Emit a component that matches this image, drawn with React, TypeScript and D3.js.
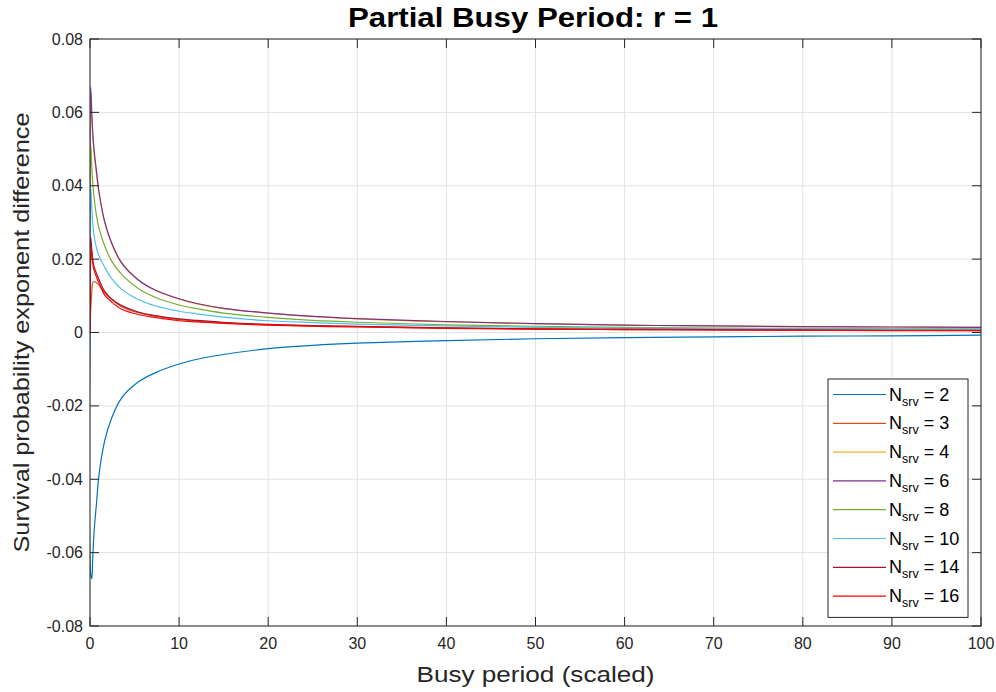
import React from 'react';
import * as d3 from 'd3';

// sample positions along the busy period axis (scaled)
const busyPeriod = [0, 0.08, 0.2, 0.3, 0.45, 0.75, 1.0, 1.65, 2.4, 3.5, 5.4, 7.3, 10, 12, 15, 20, 25, 30, 40, 50, 60, 70, 80, 90, 100];

const serverCounts = [2, 3, 4, 6, 8, 10, 14, 16];
const seriesColors = ['#0072BD', '#D95319', '#EDB120', '#7E2F8E', '#77AC30', '#4DBEEE', '#A2142F', '#FF0000'];

const nsrv2 = [0, -0.066, -0.0671, -0.062, -0.0545, -0.046, -0.039, -0.0295, -0.0235, -0.018, -0.0135, -0.011, -0.0086, -0.0073, -0.006, -0.0044, -0.0035, -0.0029, -0.0022, -0.0017, -0.0014, -0.0012, -0.001, -0.0009, -0.0007];
const nsrv3 = [0, 0.006, 0.011, 0.0135, 0.0139, 0.0135, 0.013, 0.0108, 0.0091, 0.0071, 0.0054, 0.0045, 0.0035, 0.0031, 0.0026, 0.0021, 0.0018, 0.0016, 0.0012, 0.001, 0.0008, 0.0007, 0.0006, 0.0006, 0.0005];
const nsrv4 = [0, 0.062, 0.0585, 0.0535, 0.049, 0.0428, 0.0381, 0.0299, 0.0244, 0.019, 0.0143, 0.0115, 0.0091, 0.0078, 0.0065, 0.0053, 0.0044, 0.0037, 0.0029, 0.0024, 0.002, 0.0018, 0.0016, 0.0015, 0.0014];
const nsrv6 = [0, 0.0669, 0.06, 0.055, 0.05, 0.0435, 0.0385, 0.0302, 0.0246, 0.0192, 0.0144, 0.0116, 0.0092, 0.0079, 0.0066, 0.0053, 0.0044, 0.0038, 0.003, 0.0024, 0.002, 0.0018, 0.0016, 0.0015, 0.0014];
const nsrv8 = [0, 0.0514, 0.045, 0.041, 0.037, 0.0315, 0.0285, 0.0236, 0.0196, 0.016, 0.012, 0.0096, 0.0075, 0.0065, 0.0053, 0.0041, 0.0033, 0.0028, 0.0021, 0.0017, 0.0014, 0.0012, 0.0011, 0.001, 0.001];
const nsrv10 = [0, 0.0396, 0.034, 0.03, 0.0265, 0.0228, 0.021, 0.0178, 0.0148, 0.0119, 0.009, 0.0073, 0.0058, 0.0051, 0.0042, 0.0032, 0.0027, 0.0023, 0.0018, 0.0014, 0.0012, 0.0011, 0.001, 0.0009, 0.0009];
const nsrv14 = [0, 0.026, 0.0225, 0.02, 0.018, 0.016, 0.0145, 0.0112, 0.0092, 0.0074, 0.0056, 0.0046, 0.0037, 0.0033, 0.0028, 0.0022, 0.0019, 0.0017, 0.0013, 0.001, 0.0009, 0.0008, 0.0007, 0.0006, 0.0006];
const nsrv16 = [0, 0.02, 0.0223, 0.019, 0.017, 0.015, 0.0135, 0.0102, 0.0084, 0.0064, 0.0049, 0.0041, 0.0032, 0.0029, 0.0025, 0.002, 0.0017, 0.0015, 0.0011, 0.0009, 0.0008, 0.0007, 0.0006, 0.0005, 0.0005];

const seriesValues = [nsrv2, nsrv3, nsrv4, nsrv6, nsrv8, nsrv10, nsrv14, nsrv16];

const xTicks = [0, 10, 20, 30, 40, 50, 60, 70, 80, 90, 100];
const yTicks = [-0.08, -0.06, -0.04, -0.02, 0, 0.02, 0.04, 0.06, 0.08];

const W = 996;
const H = 692;
const margin = { top: 39, right: 15, bottom: 66, left: 90 };

const App = () => {
    const x = d3.scaleLinear().domain([0, 100]).range([margin.left, W - margin.right]);
    const y = d3.scaleLinear().domain([-0.08, 0.08]).range([H - margin.bottom, margin.top]);
    const [x0, x1] = x.range();
    const [y0, y1] = y.range(); // y0 bottom, y1 top

    const line = d3
        .line<[number, number]>()
        .x((d) => x(d[0]))
        .y((d) => y(d[1]))
        .curve(d3.curveCatmullRom.alpha(0.5));

    const fmtY = (d: number) => (d === 0 ? '0' : d.toFixed(2));
    const axisColor = '#262626';
    const font = 'Liberation Sans, Arial, sans-serif';
    const tickLen = 9;

    // legend layout
    const lgX = 828;
    const lgY = 379;
    const lgW = 140;
    const lgRow = 28.8;

    return (
        <svg
            width={W}
            height={H}
            style={{ position: 'absolute', left: 0, top: 0, background: '#fff' }}
            fontFamily={font}
        >
            <rect x={0} y={0} width={W} height={H} fill="#fff" />
            <defs>
                <clipPath id="plotClip">
                    <rect x={x0} y={y1} width={x1 - x0} height={y0 - y1} />
                </clipPath>
            </defs>

            {/* grid */}
            <g stroke="#e2e2e2" strokeWidth={1}>
                {xTicks.map((t) => (
                    <line key={'gx' + t} x1={x(t)} x2={x(t)} y1={y1} y2={y0} />
                ))}
                {yTicks.map((t) => (
                    <line key={'gy' + t} x1={x0} x2={x1} y1={y(t)} y2={y(t)} />
                ))}
            </g>

            {/* series */}
            <g clipPath="url(#plotClip)" fill="none" strokeWidth={1.2}>
                {seriesValues.map((vals, i) => (
                    <path
                        key={'s' + i}
                        d={line(busyPeriod.map((b, j) => [b, vals[j]] as [number, number])) || ''}
                        stroke={seriesColors[i]}
                    />
                ))}
            </g>

            {/* axes box and ticks */}
            <g stroke={axisColor} strokeWidth={1} fill="none">
                <rect x={x0} y={y1} width={x1 - x0} height={y0 - y1} />
                {xTicks.map((t) => (
                    <g key={'tx' + t}>
                        <line x1={x(t)} x2={x(t)} y1={y0} y2={y0 - tickLen} />
                        <line x1={x(t)} x2={x(t)} y1={y1} y2={y1 + tickLen} />
                    </g>
                ))}
                {yTicks.map((t) => (
                    <g key={'ty' + t}>
                        <line x1={x0} x2={x0 + tickLen} y1={y(t)} y2={y(t)} />
                        <line x1={x1} x2={x1 - tickLen} y1={y(t)} y2={y(t)} />
                    </g>
                ))}
            </g>

            {/* tick labels */}
            <g fill={axisColor} fontSize={16}>
                {xTicks.map((t) => (
                    <text key={'lx' + t} x={x(t)} y={y0 + 23} textAnchor="middle">
                        {t}
                    </text>
                ))}
                {yTicks.map((t) => (
                    <text key={'ly' + t} x={x0 - 7} y={y(t) + 5.5} textAnchor="end">
                        {fmtY(t)}
                    </text>
                ))}
            </g>

            {/* axis labels */}
            <text x={(x0 + x1) / 2} y={682} textAnchor="middle" fontSize={22} fill={axisColor} textLength={238} lengthAdjust="spacingAndGlyphs">
                Busy period (scaled)
            </text>
            <text
                transform={`translate(29, ${(y0 + y1) / 2}) rotate(-90)`}
                textAnchor="middle"
                fontSize={22}
                fill={axisColor}
                textLength={440}
                lengthAdjust="spacingAndGlyphs"
            >
                Survival probability exponent difference
            </text>

            {/* title */}
            <text x={533} y={27} textAnchor="middle" fontSize={27} fontWeight="bold" fill="#000" textLength={370} lengthAdjust="spacingAndGlyphs">
                Partial Busy Period: r = 1
            </text>

            {/* legend */}
            <g>
                <rect x={lgX} y={lgY} width={lgW} height={lgRow * 8 + 8} fill="#fff" stroke={axisColor} strokeWidth={1} />
                {serverCounts.map((n, i) => {
                    const cy = lgY + 15.5 + i * lgRow;
                    return (
                        <g key={'lg' + n}>
                            <line x1={lgX + 5} x2={lgX + 58} y1={cy} y2={cy} stroke={seriesColors[i]} strokeWidth={1.2} />
                            <text x={lgX + 61} y={cy + 6} fontSize={18} fill="#000">
                                N
                                <tspan fontSize={12.5} dy={5}>srv</tspan>
                                <tspan dy={-5}>{` = ${n}`}</tspan>
                            </text>
                        </g>
                    );
                })}
            </g>
        </svg>
    );
};

export default App;
